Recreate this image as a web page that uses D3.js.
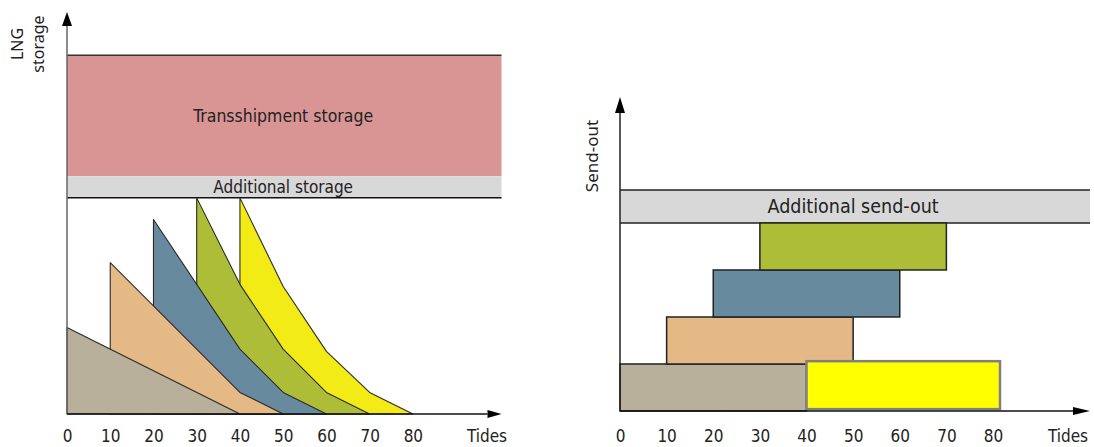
<!DOCTYPE html>
<html>
<head>
<meta charset="utf-8">
<script src="https://cdn.jsdelivr.net/npm/d3@7"></script>
<style>
  body { margin: 0; background: #fff; }
  svg { display: block; }
  .tick text { font-family: "DejaVu Sans Condensed", "DejaVu Sans", sans-serif; font-stretch: condensed; }
</style>
</head>
<body>
<svg id="chart" width="1094" height="447"></svg>
<script>
// ---------- DATA ----------
const tideTicks = [0, 10, 20, 30, 40, 50, 60, 70, 80];

// Left chart: storage profiles, [tide, storage level] (storage: 100 = base storage top)
const storageNames = ["Ship 1", "Ship 2", "Ship 3", "Ship 4", "Ship 5"];
const storageShip1 = [[0, 40], [40, 0]];
const storageShip2 = [[10, 70], [40, 10], [50, 0]];
const storageShip3 = [[20, 90], [40, 30], [50, 10], [60, 0]];
const storageShip4 = [[30, 100], [40, 60], [50, 30], [60, 10], [70, 0]];
const storageShip5 = [[40, 100], [50, 59], [60, 29], [70, 10], [80, 0]];
const storageColors = ["#b8b09a", "#e5b985", "#688a9e", "#aebd38", "#f2eb15"];

// Left chart bands [from, to] in storage units
const additionalStorage = [100, 110];
const transshipmentStorage = [110, 166];

// Right chart: send-out blocks
const sendOutNames = ["Ship 1", "Ship 2", "Ship 3", "Ship 4", "Ship 5"];
const sendOutStart = [0, 10, 20, 30, 40];
const sendOutEnd = [40, 50, 60, 70, 81.5];
const sendOutLow = [0, 1, 2, 3, 0.04];
const sendOutHigh = [1, 2, 3, 4, 1.06];
const sendOutColors = ["#b8b09a", "#e5b985", "#688a9e", "#aebd38", "#ffff00"];
const additionalSendOut = [4, 4.7];

// ---------- LAYOUT ----------
const svg = d3.select("#chart");
const condensed = '"DejaVu Sans Condensed", "DejaVu Sans", sans-serif';
const labelFont = '"Noto Sans", "Open Sans", sans-serif';

function arrowUp(g, x, yTip, len, w) {
  g.append("path")
    .attr("d", `M${x},${yTip} L${x - w / 2},${yTip + len} L${x + w / 2},${yTip + len} Z`)
    .attr("fill", "#000");
}
function arrowRight(g, xTip, y, len, h) {
  g.append("path")
    .attr("d", `M${xTip},${y} L${xTip - len},${y - h / 2} L${xTip - len},${y + h / 2} Z`)
    .attr("fill", "#000");
}
function tickAxis(g, x, y, pad) {
  const ax = g.append("g")
    .attr("transform", `translate(0,${y})`)
    .call(d3.axisBottom(x).tickValues(tideTicks).tickSize(0).tickPadding(pad).tickFormat(d3.format("d")));
  ax.select(".domain").remove();
  ax.selectAll("text").attr("font-size", 17).attr("fill", "#222");
}

// ===== LEFT CHART =====
const L = svg.append("g");
const xL = d3.scaleLinear().domain([0, 100.5]).range([67, 501.5]);
const yL = d3.scaleLinear().domain([0, 186]).range([414, 12]);

L.append("rect")
  .attr("x", xL(0)).attr("width", xL(100.5) - xL(0))
  .attr("y", yL(transshipmentStorage[1]))
  .attr("height", yL(transshipmentStorage[0]) - yL(transshipmentStorage[1]))
  .attr("fill", "#d99594");
L.append("rect")
  .attr("x", xL(0)).attr("width", xL(100.5) - xL(0))
  .attr("y", yL(additionalStorage[1]))
  .attr("height", yL(additionalStorage[0]) - yL(additionalStorage[1]))
  .attr("fill", "#d9d8d8");
L.append("line")
  .attr("x1", xL(0)).attr("x2", xL(100.5))
  .attr("y1", yL(transshipmentStorage[1])).attr("y2", yL(transshipmentStorage[1]))
  .attr("stroke", "#333").attr("stroke-width", 1.5);
L.append("line")
  .attr("x1", xL(0)).attr("x2", xL(100.5))
  .attr("y1", yL(additionalStorage[0])).attr("y2", yL(additionalStorage[0]))
  .attr("stroke", "#111").attr("stroke-width", 1.5);

L.append("text")
  .attr("x", xL(50)).attr("y", (yL(transshipmentStorage[0]) + yL(transshipmentStorage[1])) / 2)
  .attr("dy", "0.35em").attr("text-anchor", "middle")
  .attr("font-family", condensed).attr("font-stretch", "condensed").attr("font-size", 17.5).attr("fill", "#222")
  .text("Transshipment storage");
L.append("text")
  .attr("x", xL(50)).attr("y", (yL(additionalStorage[0]) + yL(additionalStorage[1])) / 2)
  .attr("dy", "0.35em").attr("text-anchor", "middle")
  .attr("font-family", condensed).attr("font-stretch", "condensed").attr("font-size", 17).attr("fill", "#222")
  .text("Additional storage");

// Storage polygons, back (last) to front (first)
const storageSeries = [storageShip1, storageShip2, storageShip3, storageShip4, storageShip5];
const line = d3.line().x(d => xL(d[0])).y(d => yL(d[1]));
for (let i = storageSeries.length - 1; i >= 0; i--) {
  const pts = storageSeries[i];
  const poly = [[pts[0][0], 0], ...pts];
  L.append("path")
    .attr("d", line(poly) + "Z")
    .attr("fill", storageColors[i])
    .attr("stroke", "#2a2a2a").attr("stroke-width", 1.1)
    .attr("stroke-linejoin", "round");
}

// Axes
L.append("line")
  .attr("x1", xL(0)).attr("x2", xL(0))
  .attr("y1", yL(0)).attr("y2", yL(186) + 13)
  .attr("stroke", "#666").attr("stroke-width", 1.5);
arrowUp(L, xL(0), yL(186), 14, 10);
L.append("line")
  .attr("x1", xL(0)).attr("x2", xL(100.5) - 14)
  .attr("y1", yL(0)).attr("y2", yL(0))
  .attr("stroke", "#111").attr("stroke-width", 1.5);
arrowRight(L, xL(100.5), yL(0), 14, 8);
tickAxis(L, xL, yL(0), 16);
L.append("text")
  .attr("x", 487).attr("y", yL(0) + 22).attr("dy", "0.35em").attr("text-anchor", "middle")
  .attr("font-family", condensed).attr("font-stretch", "condensed").attr("font-size", 17).attr("fill", "#222")
  .text("Tides");

L.append("text")
  .attr("transform", `translate(23,44) rotate(-90)`)
  .attr("text-anchor", "middle")
  .attr("font-family", labelFont).attr("font-size", 16).attr("fill", "#222")
  .text("LNG");
L.append("text")
  .attr("transform", `translate(44,44) rotate(-90)`)
  .attr("text-anchor", "middle")
  .attr("font-family", labelFont).attr("font-size", 16).attr("fill", "#222")
  .text("storage");

// ===== RIGHT CHART =====
const R = svg.append("g");
const xR = d3.scaleLinear().domain([0, 100.8]).range([620, 1090]);
const yR = d3.scaleLinear().domain([0, 6.68]).range([411, 97]);

R.append("rect")
  .attr("x", xR(0)).attr("width", xR(100.8) - xR(0))
  .attr("y", yR(additionalSendOut[1]))
  .attr("height", yR(additionalSendOut[0]) - yR(additionalSendOut[1]))
  .attr("fill", "#d9d8d8");
[additionalSendOut[0], additionalSendOut[1]].forEach(v => {
  R.append("line")
    .attr("x1", xR(0)).attr("x2", xR(100.8))
    .attr("y1", yR(v)).attr("y2", yR(v))
    .attr("stroke", "#222").attr("stroke-width", 1.5);
});
R.append("text")
  .attr("x", xR(50)).attr("y", (yR(additionalSendOut[0]) + yR(additionalSendOut[1])) / 2)
  .attr("dy", "0.35em").attr("text-anchor", "middle")
  .attr("font-family", condensed).attr("font-stretch", "condensed").attr("font-size", 19.5).attr("fill", "#222")
  .text("Additional send-out");

sendOutNames.forEach((n, i) => {
  const last = i === sendOutNames.length - 1;
  R.append("rect")
    .attr("x", xR(sendOutStart[i]))
    .attr("width", xR(sendOutEnd[i]) - xR(sendOutStart[i]))
    .attr("y", yR(sendOutHigh[i]))
    .attr("height", yR(sendOutLow[i]) - yR(sendOutHigh[i]))
    .attr("fill", sendOutColors[i])
    .attr("stroke", last ? "#808080" : "#222")
    .attr("stroke-width", last ? 2.5 : 1.5);
});

R.append("line")
  .attr("x1", xR(0)).attr("x2", xR(0))
  .attr("y1", yR(0)).attr("y2", yR(6.68) + 15)
  .attr("stroke", "#222").attr("stroke-width", 1.5);
arrowUp(R, xR(0), yR(6.68), 16, 10);
R.append("line")
  .attr("x1", xR(0)).attr("x2", xR(100.8) - 16)
  .attr("y1", yR(0)).attr("y2", yR(0))
  .attr("stroke", "#111").attr("stroke-width", 1.5);
arrowRight(R, xR(100.8), yR(0), 17, 8);
tickAxis(R, xR, yR(0), 19);
R.append("text")
  .attr("x", 1068).attr("y", yR(0) + 25.5).attr("dy", "0.35em").attr("text-anchor", "middle")
  .attr("font-family", condensed).attr("font-stretch", "condensed").attr("font-size", 17).attr("fill", "#222")
  .text("Tides");
R.append("text")
  .attr("transform", `translate(598,156) rotate(-90)`)
  .attr("text-anchor", "middle")
  .attr("font-family", labelFont).attr("font-size", 17).attr("fill", "#222")
  .text("Send-out");
</script>
</body>
</html>
